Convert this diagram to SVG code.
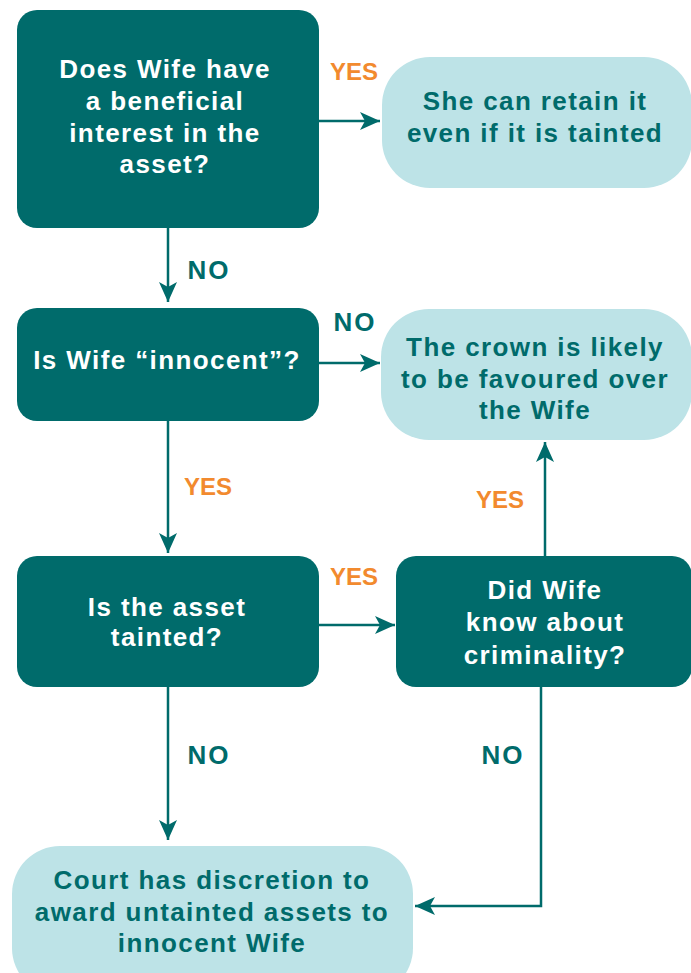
<svg xmlns="http://www.w3.org/2000/svg" width="691" height="973" viewBox="0 0 691 973">
<defs>
<marker id="ah" markerUnits="userSpaceOnUse" markerWidth="22" markerHeight="18" refX="20" refY="9" orient="auto">
<path d="M0,0 L20,9 L0,18 L5,9 Z" fill="#006b6b"/>
</marker>
<style>
.dark{fill:#006b6b}
.light{fill:#bde3e7}
.tw{font-family:"Liberation Sans",Arial,sans-serif;font-weight:bold;font-size:26px;letter-spacing:1.4px;fill:#ffffff;text-anchor:middle}
.tt{font-family:"Liberation Sans",Arial,sans-serif;font-weight:bold;font-size:26px;letter-spacing:1.4px;fill:#006b6b;text-anchor:middle}
.no{font-family:"Liberation Sans",Arial,sans-serif;font-weight:bold;font-size:26px;letter-spacing:2px;fill:#006b6b;text-anchor:middle}
.yes{font-family:"Liberation Sans",Arial,sans-serif;font-weight:bold;font-size:24px;fill:#f28a2e;text-anchor:middle}
.c{fill:none;stroke:#006b6b;stroke-width:2.5}
</style>
</defs>
<rect width="691" height="973" fill="#ffffff"/>
<g id="connectors">
<line class="c" x1="319" y1="121" x2="380" y2="121" marker-end="url(#ah)"/>
<line class="c" x1="168" y1="228" x2="168" y2="302" marker-end="url(#ah)"/>
<line class="c" x1="319" y1="363" x2="380" y2="363" marker-end="url(#ah)"/>
<line class="c" x1="168" y1="421" x2="168" y2="553" marker-end="url(#ah)"/>
<line class="c" x1="319" y1="625" x2="395" y2="625" marker-end="url(#ah)"/>
<line class="c" x1="545" y1="556" x2="545" y2="442" marker-end="url(#ah)"/>
<line class="c" x1="168" y1="687" x2="168" y2="840" marker-end="url(#ah)"/>
<polyline class="c" points="541,687 541,906 415,906" marker-end="url(#ah)"/>
<text class="yes" x="354" y="80">YES</text>
<text class="no" x="209" y="279">NO</text>
<text class="no" x="355" y="331">NO</text>
<text class="yes" x="208" y="495">YES</text>
<text class="yes" x="354" y="585">YES</text>
<text class="yes" x="500" y="508">YES</text>
<text class="no" x="209" y="764">NO</text>
<text class="no" x="503" y="764">NO</text>
</g>
<g id="q1">
<rect class="dark" x="17" y="10" width="302" height="218" rx="20"/>
<text class="tw" x="165" y="78">Does Wife have</text>
<text class="tw" x="165" y="110">a beneficial</text>
<text class="tw" x="165" y="142">interest in the</text>
<text class="tw" x="165" y="173">asset?</text>
</g>
<g id="r1">
<rect class="light" x="382" y="57" width="310" height="131" rx="48"/>
<text class="tt" x="535" y="110">She can retain it</text>
<text class="tt" x="535" y="142">even if it is tainted</text>
</g>
<g id="q2">
<rect class="dark" x="17" y="308" width="302" height="113" rx="20"/>
<text class="tw" x="167" y="369">Is Wife “innocent”?</text>
</g>
<g id="r2">
<rect class="light" x="381" y="309" width="311" height="131" rx="48"/>
<text class="tt" x="535" y="356">The crown is likely</text>
<text class="tt" x="535" y="388">to be favoured over</text>
<text class="tt" x="535" y="419">the Wife</text>
</g>
<g id="q3">
<rect class="dark" x="17" y="556" width="302" height="131" rx="20"/>
<text class="tw" x="167" y="616">Is the asset</text>
<text class="tw" x="167" y="646">tainted?</text>
</g>
<g id="q4">
<rect class="dark" x="396" y="556" width="296" height="131" rx="20"/>
<text class="tw" x="545" y="599">Did Wife</text>
<text class="tw" x="545" y="631">know about</text>
<text class="tw" x="545" y="664">criminality?</text>
</g>
<g id="r3">
<rect class="light" x="12" y="846" width="401" height="150" rx="48"/>
<text class="tt" x="212" y="889">Court has discretion to</text>
<text class="tt" x="212" y="921">award untainted assets to</text>
<text class="tt" x="212" y="952">innocent Wife</text>
</g>
</svg>
